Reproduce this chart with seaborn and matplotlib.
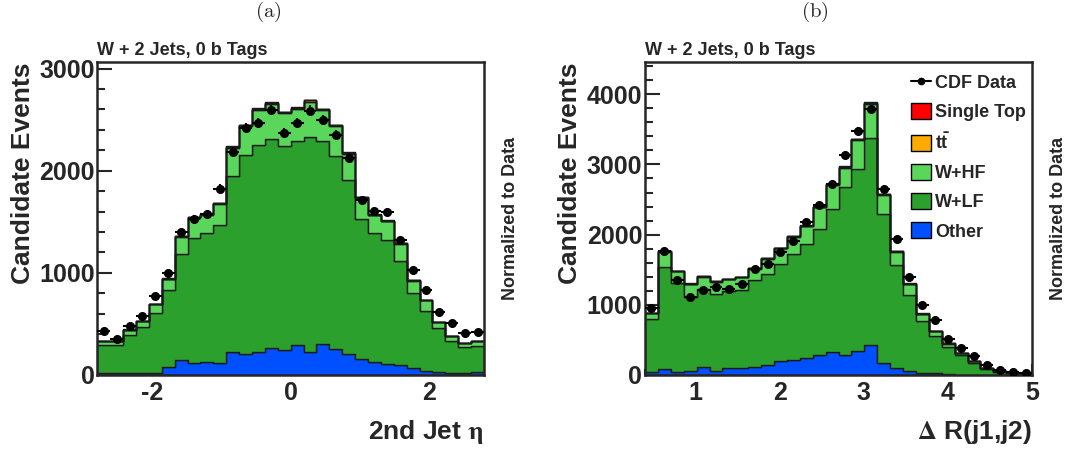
import numpy as np
import pandas as pd
import seaborn as sns
import matplotlib
matplotlib.use("Agg")
import matplotlib.pyplot as plt
from matplotlib.ticker import MultipleLocator
from matplotlib.patches import Patch
from matplotlib.lines import Line2D

# stack order: first entry sits on top of the stack
processes = ["Single Top", "tt", "W+HF", "W+LF", "Other"]
labels = ["CDF Data", "Single Top", r"$\mathbf{t\bar{t}}$", "W+HF", "W+LF", "Other"]
colors = ["#ff0000", "#ffaa00", "#5ad65a", "#2ca02c", "#0050ff"]

# ---- (a) 2nd jet eta, 30 bins from -2.8 to 2.8
eta_range = (-2.8, 2.8)
eta_other = [23, 23, 23, 16, 16, 75, 147, 114, 130, 120, 228, 205, 221, 261, 244,
             293, 221, 300, 254, 205, 153, 124, 104, 98, 65, 42, 33, 23, 16, 33]
eta_wlf = [270, 270, 368, 450, 593, 762, 1042, 1231, 1261, 1352, 1716, 1954, 2033, 2051, 1997,
           1997, 2114, 1996, 1886, 1700, 1371, 1270, 1221, 1019, 739, 583, 423, 309, 254, 254]
eta_whf = [41, 41, 52, 62, 87, 102, 165, 193, 180, 202, 281, 279, 343, 343, 324,
           317, 343, 295, 298, 264, 208, 170, 181, 169, 118, 110, 62, 49, 45, 47]
eta_tt = [1, 1, 2, 2, 3, 4, 5, 6, 6, 7, 9, 10, 10, 11, 10,
          10, 11, 10, 10, 9, 7, 6, 6, 5, 4, 3, 2, 2, 1, 1]
eta_stop = [0, 0, 1, 1, 1, 2, 2, 3, 3, 3, 4, 4, 5, 5, 5,
            5, 5, 5, 4, 4, 3, 3, 3, 2, 2, 1, 1, 1, 0, 0]
eta_data = [433, 350, 479, 580, 772, 1003, 1400, 1531, 1580, 1824, 2182, 2417, 2466, 2596, 2371,
            2466, 2589, 2498, 2355, 2127, 1716, 1606, 1596, 1319, 1026, 831, 619, 511, 407, 417]

# ---- (b) delta R(j1,j2), 30 bins from 0.4 to 5.0
dr_range = (0.4, 5.0)
dr_other = [47, 80, 47, 62, 109, 62, 104, 95, 118, 142, 204, 213, 237, 284, 332,
            284, 346, 427, 166, 95, 62, 24, 24, 14, 5, 3, 2, 1, 1, 0]
dr_wlf = [745, 1460, 1257, 1052, 1123, 1090, 1095, 1114, 1233, 1294, 1374, 1508, 1635, 1792, 2038,
          2394, 2593, 2953, 2123, 1469, 1076, 749, 535, 389, 279, 172, 83, 46, 23, 17]
dr_whf = [90, 214, 173, 183, 169, 178, 169, 182, 166, 223, 227, 248, 249, 314, 340,
          278, 407, 485, 279, 194, 159, 100, 64, 44, 33, 23, 19, 15, 9, 7]
dr_tt = [3, 6, 5, 5, 5, 5, 5, 5, 6, 6, 7, 8, 8, 9, 10,
         11, 13, 15, 10, 7, 5, 3, 2, 2, 1, 1, 0, 0, 0, 0]
dr_stop = [1, 3, 2, 2, 2, 2, 2, 2, 3, 3, 3, 4, 4, 4, 5,
           5, 6, 7, 5, 3, 2, 1, 1, 1, 0, 0, 0, 0, 0, 0]
dr_data = [957, 1763, 1360, 1114, 1218, 1256, 1223, 1303, 1507, 1588, 1754, 1910, 2180, 2417, 2725,
           3128, 3474, 3792, 2654, 1934, 1398, 995, 782, 507, 379, 270, 142, 71, 43, 24]

sns.set_style("ticks")
plt.rcParams["font.family"] = ["Liberation Sans", "DejaVu Sans"]
plt.rcParams["font.weight"] = "bold"
plt.rcParams["axes.labelweight"] = "bold"
plt.rcParams["axes.unicode_minus"] = False
plt.rcParams["mathtext.fontset"] = "custom"
plt.rcParams["mathtext.bf"] = "Liberation Sans:bold"
plt.rcParams["mathtext.rm"] = "Liberation Sans:bold"


def draw_panel(ax, rng, comps, data, xlabel, ymax, xmajor, xminor):
    nbins = len(data)
    width = (rng[1] - rng[0]) / nbins
    centers = rng[0] + width * (np.arange(nbins) + 0.5)
    df = pd.concat([pd.DataFrame({"x": centers, "w": c, "process": p})
                    for p, c in zip(processes, comps)], ignore_index=True)
    sns.histplot(df, x="x", weights="w", hue="process", hue_order=processes,
                 multiple="stack", bins=nbins, binrange=rng, element="step",
                 palette=colors, alpha=1, linewidth=1.0, edgecolor="#1a1a1a",
                 legend=False, ax=ax)
    data = np.array(data, dtype=float)
    ax.errorbar(centers, data, xerr=width / 2, yerr=np.sqrt(data), fmt="o",
                color="black", ms=5.5, elinewidth=1.5, capsize=0, zorder=5)
    ax.set_xlim(*rng)
    ax.set_ylim(0, ymax)
    ax.xaxis.set_major_locator(MultipleLocator(xmajor))
    ax.xaxis.set_minor_locator(MultipleLocator(xminor))
    ax.yaxis.set_major_locator(MultipleLocator(1000))
    ax.yaxis.set_minor_locator(MultipleLocator(200))
    ax.tick_params(which="both", direction="in", width=1.5, labelsize=18, pad=2)
    ax.tick_params(axis="y", which="major", length=11)
    ax.tick_params(axis="y", which="minor", length=5.5)
    ax.tick_params(axis="x", which="major", length=8, pad=4)
    ax.tick_params(axis="x", which="minor", length=4)
    for lab in ax.get_xticklabels() + ax.get_yticklabels():
        lab.set_fontweight("bold")
    for s in ax.spines.values():
        s.set_linewidth(1.8)
        s.set_visible(True)
    ax.set_xlabel(xlabel, loc="right", fontsize=19, labelpad=10)
    ax.set_ylabel("Candidate Events", loc="top", fontsize=19, labelpad=3)
    ax.xaxis.label.set_math_fontfamily("stix")
    ax.text(0, 1.022, "W + 2 Jets, 0 b Tags", transform=ax.transAxes,
            fontsize=13, fontweight="bold", va="baseline", ha="left")
    ax.text(1.068, 0.5, "Normalized to Data", transform=ax.transAxes,
            rotation=90, fontsize=13, fontweight="bold", va="center", ha="center")


fig = plt.figure(figsize=(10.65, 4.49), dpi=100)
ax1 = fig.add_axes([97.3 / 1065, 74 / 449, 386.7 / 1065, 313 / 449])
ax2 = fig.add_axes([645 / 1065, 74 / 449, 387 / 1065, 313 / 449])

draw_panel(ax1, eta_range, [eta_stop, eta_tt, eta_whf, eta_wlf, eta_other], eta_data,
           r"2nd Jet $\mathrm{\eta}$", 3065, 2, 0.5)
draw_panel(ax2, dr_range, [dr_stop, dr_tt, dr_whf, dr_wlf, dr_other], dr_data,
           r"$\Delta$ R(j1,j2)", 4460, 1, 0.2)

handles = [Line2D([], [], color="black", marker="o", ms=4.5, lw=1.5)]
handles += [Patch(facecolor=c, edgecolor="black", lw=1) for c in colors]
ax2.legend(handles, labels, loc="upper right", bbox_to_anchor=(1.012, 0.996),
           frameon=False, prop=dict(weight="bold", size=13),
           handlelength=1.1, handleheight=1.0, handletextpad=0.2,
           labelspacing=0.6, borderaxespad=0.2)

fig.text(268 / 1065, 1 - 12 / 449, r"$\mathrm{(a)}$", ha="center", va="center",
         fontsize=15, math_fontfamily="cm")
fig.text(815 / 1065, 1 - 12 / 449, r"$\mathrm{(b)}$", ha="center", va="center",
         fontsize=15, math_fontfamily="cm")

fig.savefig("out.png", dpi=100)
